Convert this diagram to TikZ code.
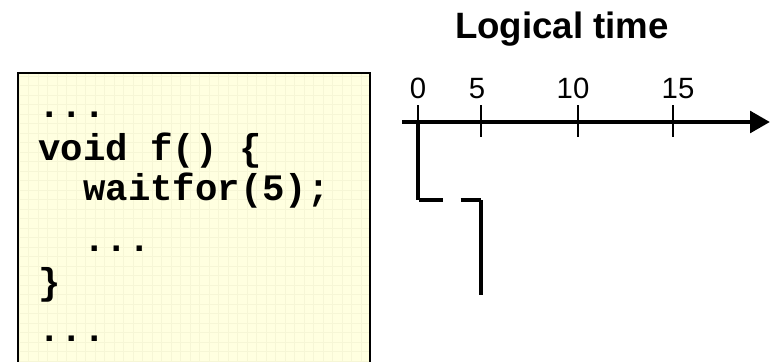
\documentclass[tikz,border=0pt]{standalone}
\usepackage{fontspec}
\setmainfont{Liberation Sans}
\setmonofont{Liberation Mono}
\usepackage{tikz}
\usetikzlibrary{arrows.meta}
\definecolor{codebg}{HTML}{FFFFE0}
\definecolor{codegrid}{HTML}{F6F6D6}
\tikzset{codeline/.style={anchor=base west,inner sep=0pt,font=\fontsize{28}{28}\selectfont\ttfamily\bfseries},
tick/.style={line width=1.6pt},
flow/.style={line width=3pt},
ticklabel/.style={anchor=base,inner sep=0pt,font=\fontsize{22}{22}\selectfont}}

\begin{document}
\begin{tikzpicture}[x=0.75pt,y=-0.75pt]
\useasboundingbox (0,0) rectangle (770,361);
% code box
\fill[codebg] (18,73) rectangle (370,365);
\draw[codegrid,thin,step=7.125pt] (18,73) grid (370,365);
\draw[line width=1.6pt] (18,365)--(18,73)--(370,73)--(370,365);
\foreach \x/\y/\txt in {38/117.5/{...},38/160/{void f() \{},83/200/{waitfor(5);},83/251.5/{...},38/294/{\}},38/341.5/{...}} {
\node[codeline] (l\y) at (\x,\y) {\txt};}
% time axis
\node[anchor=base,inner sep=0pt,font=\fontsize{27.5}{27.5}\selectfont\bfseries] (title) at (562,38) {Logical time};
\coordinate (start) at (402,122);
\coordinate (tip) at (770,122);
\draw[line width=3.5pt,-{Triangle[length=15pt,width=16pt]}] (start)--(tip);
\foreach \x/\lx/\t in {418/418/0,481/477/5,578/573/10,673/678/15} {
\draw[tick] (\x,105)--(\x,137);
\node[ticklabel] (t\t) at (\lx,98) {\t};}
% waitfor path
\coordinate (a) at (418,122);
\coordinate (b) at (418,200);
\coordinate (c) at (481,200);
\coordinate (d) at (481,295);
\draw[flow] (a)--(b);
\draw[flow,dash pattern=on 18pt off 13pt,dash phase=-1pt] (b)--(c);
\draw[flow] (c)--(d);
\end{tikzpicture}
\end{document}
